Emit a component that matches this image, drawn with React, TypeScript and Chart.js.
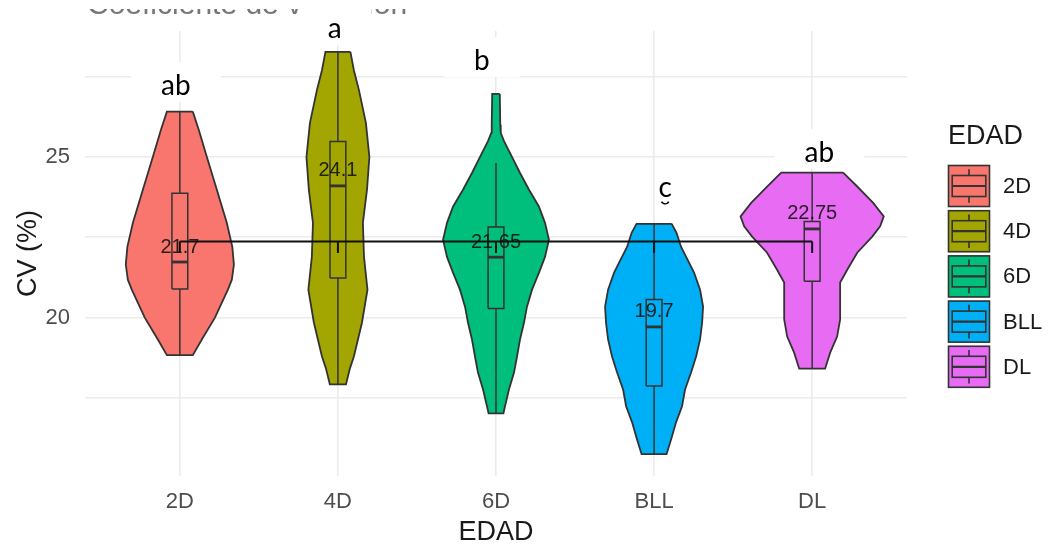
import React, { useEffect, useRef } from "react";
import { Chart, registerables } from "chart.js";

Chart.register(...registerables);

// ---------------- data ----------------
const groups = ["2D", "4D", "6D", "BLL", "DL"];
const fillColors = ["#F8766D", "#A3A500", "#00BF7D", "#00B0F6", "#E76BF3"];

// violin outlines: CV (%) values from top to bottom and half-widths (density, category units)
const cv2D = [26.41, 25.84, 25.0, 23.98, 22.95, 22.2, 21.65, 21.18, 20.87, 20.0, 19.32, 18.83];
const w2D = [0.082, 0.12, 0.171, 0.234, 0.297, 0.332, 0.342, 0.329, 0.304, 0.222, 0.139, 0.082];
const cv4D = [28.27, 27.7, 27.08, 26.06, 25.0, 23.98, 22.95, 21.89, 20.87, 19.84, 18.79, 18.42, 17.92];
const w4D = [0.079, 0.101, 0.133, 0.177, 0.199, 0.184, 0.158, 0.165, 0.187, 0.152, 0.101, 0.076, 0.051];
const cv6D = [26.96, 26.0, 25.75, 25.5, 25.0, 24.5, 23.98, 23.45, 22.95, 22.42, 21.89, 21.4, 20.87, 20.34, 19.84, 19.32, 18.79, 18.29, 17.76, 17.24, 17.02];
const w6D = [0.024, 0.027, 0.03, 0.05, 0.101, 0.152, 0.209, 0.272, 0.31, 0.335, 0.31, 0.272, 0.228, 0.196, 0.177, 0.152, 0.133, 0.114, 0.082, 0.057, 0.047];
const cvBLL = [22.92, 22.64, 22.2, 21.89, 21.4, 20.87, 20.34, 19.84, 19.32, 18.79, 18.29, 17.76, 17.24, 16.74, 16.21, 15.75];
const wBLL = [0.111, 0.142, 0.171, 0.203, 0.253, 0.291, 0.31, 0.304, 0.291, 0.266, 0.234, 0.196, 0.177, 0.139, 0.108, 0.079];
const cvDL = [24.51, 24.08, 23.57, 23.15, 22.84, 22.52, 22.02, 21.49, 21.09, 20.47, 19.94, 19.41, 18.91, 18.41];
const wDL = [0.196, 0.285, 0.386, 0.453, 0.43, 0.38, 0.285, 0.222, 0.177, 0.177, 0.177, 0.158, 0.114, 0.082];

// boxplot statistics
const q1 = [20.89, 21.23, 20.28, 17.87, 21.13];
const medians = [21.73, 24.1, 21.88, 19.71, 22.76];
const q3 = [23.87, 25.48, 22.82, 20.56, 22.99];
const whiskerLow = [18.83, 17.92, 17.02, 15.75, 18.41];
const whiskerHigh = [26.41, 28.27, 24.81, 22.92, 24.51];

// annotations
const medianLabels = ["21.7", "24.1", "21.65", "19.7", "22.75"];
const letters = ["ab", "a", "b", "c", "ab"];
const letterCV = [26.93, 28.7, 27.7, 23.76, 24.84];
const letterShift = [-0.025, -0.02, -0.09, 0.07, 0.045];
const bracketCV = 22.37;
const bracketTickCV = 22.01;

const yTicks = [17.5, 20, 22.5, 25, 27.5];
const yLabeled = [20, 25];
const xTicks = [0, 1, 2, 3, 4];
const plotTitle = "Coeficiente de variación";

const OUTLINE = "#333333";
const BOX_HALF = 0.05;

export default function App() {
  const ref = useRef<HTMLCanvasElement | null>(null);

  useEffect(() => {
    const canvas = ref.current;
    if (!canvas) return;

    const profiles: [number[], number[]][] = [
      [cv2D, w2D],
      [cv4D, w4D],
      [cv6D, w6D],
      [cvBLL, wBLL],
      [cvDL, wDL],
    ];

    const datasets: any[] = [];
    const base = {
      showLine: true,
      pointRadius: 0,
      pointHoverRadius: 0,
      tension: 0,
    };

    // violins
    profiles.forEach(([cv, w], i) => {
      const right = cv.map((v, k) => ({ x: i + w[k], y: v }));
      const left = cv.map((v, k) => ({ x: i - w[k], y: v })).reverse();
      datasets.push({
        ...base,
        data: [...right, ...left, right[0]],
        fill: "shape",
        backgroundColor: fillColors[i],
        borderColor: OUTLINE,
        borderWidth: 1.8,
        order: 100,
      });
    });
    // whiskers
    groups.forEach((_, i) => {
      datasets.push({
        ...base,
        data: [
          { x: i, y: whiskerLow[i] },
          { x: i, y: whiskerHigh[i] },
        ],
        fill: false,
        borderColor: OUTLINE,
        borderWidth: 1.5,
        order: 80,
      });
    });
    // boxes
    groups.forEach((_, i) => {
      datasets.push({
        ...base,
        data: [
          { x: i - BOX_HALF, y: q1[i] },
          { x: i + BOX_HALF, y: q1[i] },
          { x: i + BOX_HALF, y: q3[i] },
          { x: i - BOX_HALF, y: q3[i] },
          { x: i - BOX_HALF, y: q1[i] },
        ],
        fill: "shape",
        backgroundColor: fillColors[i],
        borderColor: OUTLINE,
        borderWidth: 1.5,
        order: 60,
      });
    });
    // medians
    groups.forEach((_, i) => {
      datasets.push({
        ...base,
        data: [
          { x: i - BOX_HALF, y: medians[i] },
          { x: i + BOX_HALF, y: medians[i] },
        ],
        fill: false,
        borderColor: OUTLINE,
        borderWidth: 2.8,
        borderCapStyle: "butt",
        order: 40,
      });
    });
    // bracket line
    const bracket: any[] = [
      { x: xTicks[0], y: bracketCV },
      { x: xTicks[xTicks.length - 1], y: bracketCV },
    ];
    xTicks.forEach((t) => {
      bracket.push({ x: t, y: null });
      bracket.push({ x: t, y: bracketCV });
      bracket.push({ x: t, y: bracketTickCV });
    });
    datasets.push({
      ...base,
      data: bracket,
      fill: false,
      spanGaps: false,
      borderColor: "#111",
      borderWidth: 2,
      order: 20,
    });

    const letterFont = "28px Lato, 'Open Sans', sans-serif";

    const decor = {
      id: "decor",
      beforeDraw(chart: any) {
        const ctx = chart.ctx;
        ctx.save();
        ctx.fillStyle = "#fff";
        ctx.fillRect(0, 0, chart.width, chart.height);
        // partially cropped title: only its lowest strip remains visible
        ctx.fillStyle = "#777";
        ctx.font = "30px 'Liberation Sans', Arial, sans-serif";
        ctx.textBaseline = "alphabetic";
        ctx.textAlign = "left";
        ctx.fillText(plotTitle, chart.chartArea.left + 2, 13.5);
        ctx.fillStyle = "#fff";
        ctx.fillRect(0, 0, chart.width, 9);
        ctx.fillRect(0, 14, chart.width, 10);
        ctx.restore();
      },
      beforeDatasetsDraw(chart: any) {
        const ctx = chart.ctx;
        const xs = chart.scales.x;
        const ys = chart.scales.y;
        ctx.save();
        ctx.font = letterFont;
        ctx.fillStyle = "#fff";
        letters.forEach((t, i) => {
          if (t === "c") return;
          const cx = xs.getPixelForValue(i + letterShift[i]);
          const by = ys.getPixelForValue(letterCV[i]);
          const tw = ctx.measureText(t).width;
          ctx.fillRect(cx - tw / 2 - 30, by - 33, tw + 60, 40);
        });
        ctx.restore();
      },
      afterDatasetsDraw(chart: any) {
        const ctx = chart.ctx;
        const xs = chart.scales.x;
        const ys = chart.scales.y;
        ctx.save();
        // median labels
        ctx.font = "20px 'Liberation Sans', Arial, sans-serif";
        ctx.fillStyle = "rgba(15,15,15,0.88)";
        ctx.textAlign = "center";
        ctx.textBaseline = "middle";
        medianLabels.forEach((t, i) => {
          ctx.fillText(t, xs.getPixelForValue(i), ys.getPixelForValue(medians[i]) - 15);
        });
        // significance letters
        ctx.font = letterFont;
        ctx.fillStyle = "#000";
        ctx.textBaseline = "alphabetic";
        letters.forEach((t, i) => {
          const cx = xs.getPixelForValue(i + letterShift[i]);
          const by = ys.getPixelForValue(letterCV[i]);
          ctx.fillText(t, cx, by);
          if (t === "c") {
            ctx.beginPath();
            ctx.strokeStyle = "#000";
            ctx.lineWidth = 1.6;
            ctx.arc(cx, by + 3, 4, 0.15 * Math.PI, 0.85 * Math.PI);
            ctx.stroke();
          }
        });
        ctx.restore();
      },
      afterDraw(chart: any) {
        const ctx = chart.ctx;
        const lx = chart.chartArea.right + 41;
        ctx.save();
        ctx.fillStyle = "#1a1a1a";
        ctx.font = "27px 'Liberation Sans', Arial, sans-serif";
        ctx.textAlign = "left";
        ctx.textBaseline = "middle";
        ctx.fillText("EDAD", lx, 137);
        const key = 42;
        const gap = 45.2;
        groups.forEach((g, i) => {
          const top = 165 + i * gap;
          ctx.fillStyle = fillColors[i];
          ctx.strokeStyle = OUTLINE;
          ctx.lineWidth = 1.6;
          ctx.fillRect(lx, top, key, key);
          ctx.strokeRect(lx + 0.5, top + 0.5, key - 1, key - 1);
          const cx = lx + key / 2;
          // whiskers
          ctx.beginPath();
          ctx.moveTo(cx, top + key * 0.1);
          ctx.lineTo(cx, top + key * 0.25);
          ctx.moveTo(cx, top + key * 0.75);
          ctx.lineTo(cx, top + key * 0.9);
          ctx.stroke();
          // box
          ctx.strokeRect(lx + key * 0.1, top + key * 0.25, key * 0.8, key * 0.5);
          ctx.beginPath();
          ctx.lineWidth = 2.2;
          ctx.moveTo(lx + key * 0.1, top + key * 0.5);
          ctx.lineTo(lx + key * 0.9, top + key * 0.5);
          ctx.stroke();
          ctx.fillStyle = "#1a1a1a";
          ctx.font = "22px 'Liberation Sans', Arial, sans-serif";
          ctx.fillText(g, lx + 55, top + key / 2 + 1);
        });
        ctx.restore();
      },
    };

    const chart = new Chart(canvas, {
      type: "scatter",
      data: { datasets },
      options: {
        animation: false,
        responsive: false,
        devicePixelRatio: 1,
        events: [],
        layout: { padding: { top: 31, right: 147, left: 0, bottom: 0 } },
        plugins: {
          legend: { display: false },
          tooltip: { enabled: false },
        },
        scales: {
          x: {
            type: "linear",
            min: -0.6,
            max: 4.6,
            afterBuildTicks: (s: any) => {
              s.ticks = xTicks.map((v) => ({ value: v }));
            },
            afterFit: (s: any) => {
              s.height = 73;
            },
            ticks: {
              callback: (v: any) => groups[Math.round(Number(v))] ?? "",
              color: "#4d4d4d",
              font: { size: 22, family: "'Liberation Sans', Arial, sans-serif" },
              padding: 13,
              maxRotation: 0,
              autoSkip: false,
            },
            grid: { color: "#ebebeb", lineWidth: 1.6, drawTicks: false },
            border: { display: false },
            title: {
              display: true,
              text: "EDAD",
              color: "#1a1a1a",
              font: { size: 27, family: "'Liberation Sans', Arial, sans-serif" },
              padding: { top: 0, bottom: 0 },
            },
          },
          y: {
            type: "linear",
            min: 15.07,
            max: 28.92,
            afterBuildTicks: (s: any) => {
              s.ticks = yTicks.map((v) => ({ value: v }));
            },
            afterFit: (s: any) => {
              s.width = 85;
            },
            ticks: {
              callback: (v: any) => (yLabeled.includes(Number(v)) ? String(v) : ""),
              color: "#4d4d4d",
              font: { size: 22, family: "'Liberation Sans', Arial, sans-serif" },
              padding: 15,
              autoSkip: false,
            },
            grid: { color: "#ebebeb", lineWidth: 1.6, drawTicks: false },
            border: { display: false },
            title: {
              display: true,
              text: "CV (%)",
              color: "#1a1a1a",
              font: { size: 27, family: "'Liberation Sans', Arial, sans-serif" },
              padding: { top: 12, bottom: 0 },
            },
          },
        },
      },
      plugins: [decor],
    });

    return () => chart.destroy();
  }, []);

  return (
    <div style={{ position: "fixed", left: 0, top: 0, width: 1054, height: 549, background: "#fff" }}>
      <canvas ref={ref} width={1054} height={549} style={{ width: 1054, height: 549, display: "block" }} />
    </div>
  );
}
